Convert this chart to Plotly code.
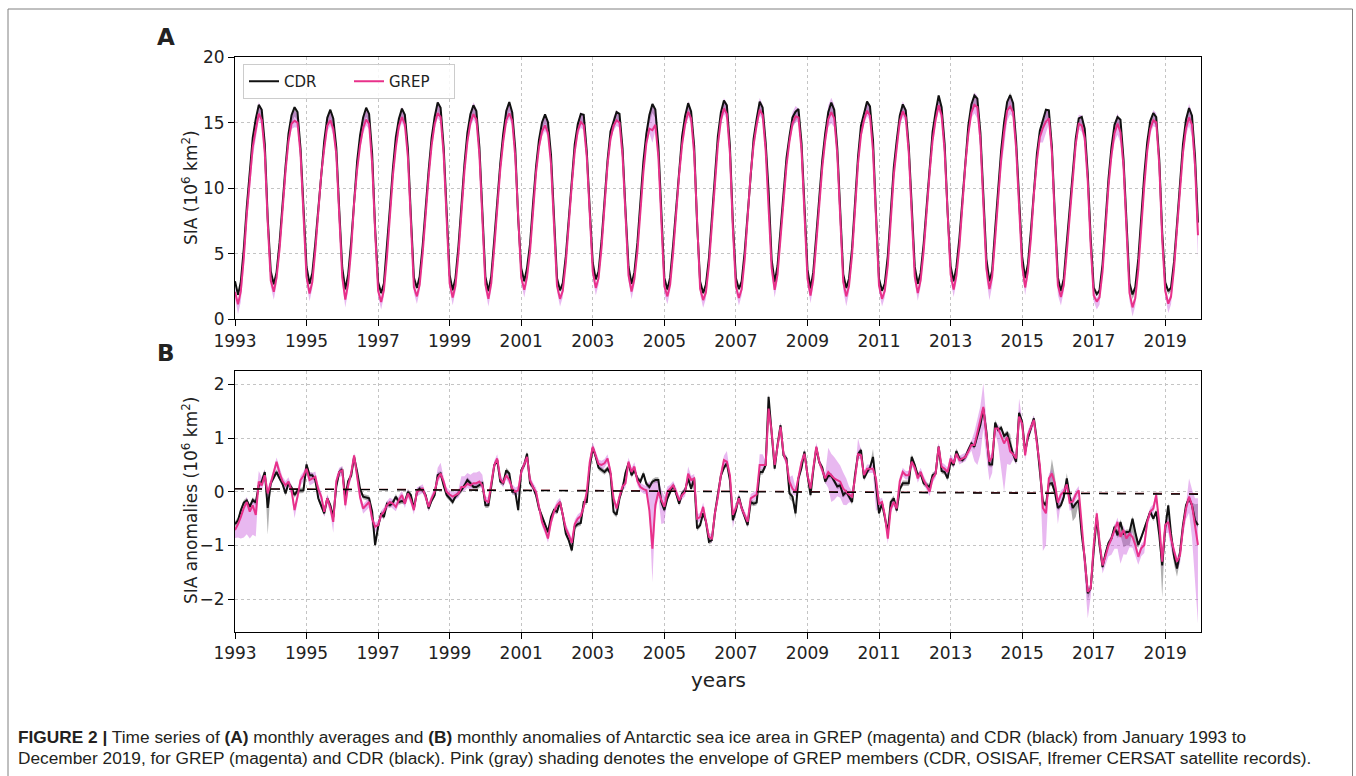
import pandas as pd
import plotly.graph_objects as go

# ---------------- data ----------------
years = list(range(1993, 2020))
dates = pd.date_range("1993-01-01", periods=12 * len(years), freq="MS")

# monthly climatologies (10^6 km2), Jan..Dec
clim_cdr = [3.5, 2.4, 3.2, 5.6, 8.7, 11.7, 14.0, 15.5, 16.25, 15.8, 13.0, 8.0]
clim_grep = [2.8, 1.75, 2.6, 5.0, 8.2, 11.2, 13.4, 14.9, 15.5, 15.1, 12.4, 7.4]

# monthly anomalies (10^6 km2), one row per year
anom_cdr = [
    [-0.60, -0.53, -0.35, -0.20, -0.16, -0.28, -0.15, -0.20, 0.12, 0.19, 0.37, -0.30],
    [0.16, 0.28, 0.37, 0.25, 0.15, -0.03, 0.16, 0.08, -0.06, 0.02, 0.03, 0.03],
    [0.51, 0.31, 0.31, 0.22, -0.12, -0.25, -0.40, -0.12, -0.25, -0.47, 0.10, 0.37],
    [0.42, -0.12, 0.20, 0.30, 0.65, 0.37, 0.05, -0.09, -0.10, -0.12, -0.37, -0.99],
    [-0.65, -0.40, -0.47, -0.22, -0.25, -0.20, -0.09, -0.19, -0.17, -0.19, 0.00, -0.06],
    [-0.31, 0.00, 0.06, 0.03, -0.06, -0.31, -0.16, -0.06, 0.31, 0.34, 0.12, -0.06],
    [-0.12, -0.19, -0.09, -0.03, 0.03, 0.12, 0.22, 0.16, 0.09, 0.09, 0.12, 0.16],
    [-0.25, -0.25, 0.10, 0.50, 0.59, 0.19, 0.16, 0.40, 0.34, 0.00, 0.00, -0.34],
    [0.40, 0.50, 0.71, 0.16, 0.09, -0.06, -0.31, -0.47, -0.60, -0.75, -0.47, -0.34],
    [-0.37, -0.19, -0.43, -0.78, -0.90, -1.09, -0.65, -0.60, -0.58, -0.19, -0.19, 0.45],
    [0.82, 0.65, 0.45, 0.40, 0.37, 0.43, 0.34, -0.37, -0.43, -0.12, 0.06, 0.35],
    [0.53, 0.31, 0.40, 0.25, 0.19, 0.34, 0.15, 0.09, 0.19, 0.22, 0.22, -0.19],
    [-0.34, -0.12, 0.00, 0.12, -0.03, -0.22, -0.03, 0.03, 0.25, 0.06, 0.25, -0.68],
    [-0.62, -0.40, -0.55, -0.93, -0.90, -0.40, -0.05, 0.30, 0.45, 0.53, 0.22, -0.53],
    [-0.35, -0.09, -0.30, -0.45, -0.62, -0.19, -0.22, -0.20, 0.37, 0.37, 0.50, 1.77],
    [1.06, 0.43, 0.87, 1.24, 0.68, 0.62, -0.03, -0.09, -0.40, 0.25, 0.45, 0.75],
    [0.31, -0.06, 0.40, 0.82, 0.55, 0.45, 0.19, 0.30, 0.30, 0.19, 0.10, 0.12],
    [-0.06, 0.00, -0.10, -0.19, 0.31, 0.70, 0.78, 0.25, 0.37, 0.45, 0.65, 0.12],
    [-0.40, -0.22, -0.47, -0.75, -0.19, -0.12, -0.35, 0.05, 0.16, 0.16, 0.16, 0.65],
    [0.50, 0.31, 0.34, 0.16, 0.12, 0.09, 0.31, 0.34, 0.84, 0.39, 0.37, 0.25],
    [0.56, 0.50, 0.76, 0.62, 0.59, 0.65, 0.78, 0.90, 0.84, 1.05, 1.25, 1.55],
    [1.12, 0.51, 0.51, 1.29, 1.15, 1.19, 1.04, 1.09, 0.87, 0.70, 0.56, 1.47],
    [1.30, 0.75, 1.00, 1.20, 1.37, 0.95, 0.40, -0.19, -0.25, 0.15, 0.16, 0.00],
    [-0.30, -0.25, -0.10, 0.25, -0.09, -0.30, -0.22, -0.16, -0.80, -1.24, -1.89, -1.80],
    [-1.09, -0.47, -0.99, -1.40, -1.15, -0.95, -0.87, -0.65, -0.81, -0.56, -0.78, -0.75],
    [-0.75, -0.50, -0.75, -0.99, -0.85, -0.68, -0.50, -0.37, -0.50, -0.37, -0.80, -1.37],
    [-0.68, -0.25, -0.78, -1.20, -1.43, -1.12, -0.62, -0.25, -0.12, -0.25, -0.53, -0.62],
]
anom_grep = [
    [-0.71, -0.60, -0.47, -0.30, -0.19, -0.37, -0.25, -0.43, 0.19, 0.12, 0.31, -0.03],
    [0.16, 0.35, 0.56, 0.35, 0.20, 0.12, 0.19, 0.03, -0.34, -0.09, 0.22, 0.30],
    [0.43, 0.22, 0.25, 0.28, 0.05, -0.09, -0.37, -0.12, -0.30, -0.56, 0.20, 0.37],
    [0.40, -0.25, 0.12, 0.35, 0.68, 0.25, -0.10, -0.31, -0.25, -0.19, -0.50, -0.65],
    [-0.62, -0.43, -0.37, -0.25, -0.19, -0.22, -0.28, -0.15, -0.06, -0.22, -0.03, -0.15],
    [-0.34, 0.00, 0.03, 0.06, -0.09, -0.28, -0.12, 0.00, 0.25, 0.34, 0.19, 0.00],
    [-0.05, -0.09, -0.06, -0.03, 0.09, 0.09, 0.15, 0.12, 0.16, 0.16, 0.19, 0.12],
    [-0.16, -0.19, 0.16, 0.50, 0.62, 0.25, 0.16, 0.31, 0.22, 0.06, 0.00, 0.03],
    [0.37, 0.50, 0.65, 0.22, 0.09, 0.00, -0.25, -0.56, -0.70, -0.87, -0.56, -0.37],
    [-0.25, -0.19, -0.43, -0.68, -0.80, -0.95, -0.60, -0.50, -0.45, -0.28, 0.00, 0.55],
    [0.84, 0.65, 0.52, 0.50, 0.53, 0.62, 0.37, -0.12, -0.31, -0.09, 0.10, 0.16],
    [0.56, 0.37, 0.47, 0.20, 0.09, 0.05, 0.03, -0.35, -1.06, -0.25, 0.00, -0.15],
    [-0.28, 0.00, 0.05, 0.12, 0.00, -0.16, -0.06, 0.00, 0.34, 0.22, 0.25, -0.50],
    [-0.47, -0.28, -0.55, -0.84, -0.87, -0.40, -0.10, 0.31, 0.59, 0.56, 0.31, -0.43],
    [-0.30, -0.12, -0.31, -0.45, -0.56, -0.12, -0.09, -0.05, 0.50, 0.50, 0.50, 1.55],
    [1.12, 0.50, 0.81, 1.21, 0.71, 0.56, 0.19, 0.06, 0.00, 0.31, 0.55, 0.71],
    [0.31, 0.06, 0.45, 0.84, 0.56, 0.40, 0.25, 0.37, 0.31, 0.25, 0.22, 0.19],
    [0.06, 0.00, -0.05, -0.09, 0.25, 0.70, 0.68, 0.31, 0.43, 0.43, 0.43, 0.25],
    [-0.22, -0.19, -0.43, -0.87, -0.31, -0.19, -0.31, 0.20, 0.37, 0.31, 0.31, 0.56],
    [0.45, 0.25, 0.37, 0.22, 0.10, 0.00, 0.25, 0.34, 0.84, 0.47, 0.43, 0.37],
    [0.62, 0.53, 0.71, 0.59, 0.62, 0.65, 0.75, 0.87, 0.87, 1.10, 1.30, 1.58],
    [1.06, 0.56, 0.65, 1.18, 1.18, 1.02, 0.90, 1.02, 0.75, 0.70, 0.62, 1.40],
    [1.27, 0.68, 1.06, 1.20, 1.34, 0.90, 0.50, -0.30, -0.40, 0.25, 0.34, 0.16],
    [-0.20, -0.05, 0.00, 0.14, -0.20, -0.18, -0.05, 0.03, -0.70, -1.27, -1.86, -1.80],
    [-0.99, -0.40, -0.93, -1.37, -1.20, -1.00, -0.87, -0.71, -0.56, -0.84, -0.71, -0.87],
    [-0.78, -0.84, -0.99, -1.21, -1.05, -0.99, -0.56, -0.37, -0.31, -0.06, -0.60, -1.30],
    [-0.62, -0.56, -0.87, -1.10, -1.30, -1.18, -0.68, -0.31, -0.09, -0.25, -0.62, -0.99],
]

# envelope of GREP members (pink): distance below / above GREP anomaly
pink_lo = [
    [0.15, 0.25, 0.40, 0.55, 0.60, 0.50, 0.55, 0.40, 0.10, 0.10, 0.10, 0.15],
    [0.10, 0.10, 0.10, 0.10, 0.10, 0.10, 0.10, 0.10, 0.15, 0.10, 0.10, 0.10],
    [0.10, 0.10, 0.10, 0.10, 0.10, 0.10, 0.10, 0.10, 0.10, 0.20, 0.10, 0.10],
    [0.10, 0.10, 0.10, 0.10, 0.10, 0.10, 0.10, 0.10, 0.10, 0.10, 0.15, 0.10],
    [0.08, 0.08, 0.08, 0.08, 0.08, 0.10, 0.08, 0.08, 0.08, 0.08, 0.08, 0.08],
    [0.08, 0.08, 0.08, 0.08, 0.08, 0.08, 0.08, 0.08, 0.08, 0.08, 0.08, 0.08],
    [0.08, 0.08, 0.08, 0.08, 0.08, 0.08, 0.08, 0.08, 0.08, 0.08, 0.08, 0.08],
    [0.08, 0.08, 0.08, 0.08, 0.08, 0.08, 0.08, 0.08, 0.08, 0.08, 0.08, 0.08],
    [0.08, 0.08, 0.08, 0.08, 0.08, 0.08, 0.08, 0.08, 0.08, 0.08, 0.08, 0.08],
    [0.08, 0.08, 0.08, 0.08, 0.08, 0.08, 0.08, 0.08, 0.08, 0.08, 0.08, 0.08],
    [0.08, 0.08, 0.08, 0.08, 0.08, 0.08, 0.08, 0.08, 0.08, 0.08, 0.08, 0.08],
    [0.08, 0.08, 0.08, 0.08, 0.08, 0.08, 0.08, 0.05, 0.62, 0.15, 0.10, 0.45],
    [0.30, 0.10, 0.08, 0.08, 0.08, 0.08, 0.08, 0.08, 0.08, 0.08, 0.08, 0.08],
    [0.08, 0.08, 0.08, 0.08, 0.08, 0.08, 0.08, 0.08, 0.08, 0.08, 0.08, 0.25],
    [0.08, 0.08, 0.08, 0.08, 0.08, 0.08, 0.08, 0.08, 0.08, 0.08, 0.08, 0.08],
    [0.08, 0.08, 0.08, 0.08, 0.08, 0.08, 0.08, 0.10, 0.08, 0.08, 0.08, 0.08],
    [0.08, 0.08, 0.08, 0.08, 0.08, 0.08, 0.08, 0.30, 0.50, 0.40, 0.30, 0.30],
    [0.30, 0.25, 0.15, 0.10, 0.08, 0.08, 0.08, 0.08, 0.08, 0.08, 0.08, 0.60],
    [0.10, 0.08, 0.08, 0.10, 0.08, 0.08, 0.08, 0.08, 0.08, 0.08, 0.08, 0.08],
    [0.08, 0.08, 0.08, 0.08, 0.08, 0.08, 0.08, 0.08, 0.08, 0.08, 0.08, 0.08],
    [0.08, 0.08, 0.08, 0.08, 0.08, 0.08, 0.08, 0.10, 0.30, 0.60, 0.60, 0.40],
    [0.40, 0.35, 0.30, 0.08, 0.30, 0.60, 0.90, 0.50, 0.25, 0.10, 0.10, 0.10],
    [0.10, 0.10, 0.10, 0.10, 0.10, 0.10, 0.15, 0.80, 0.60, 0.15, 0.10, 0.20],
    [0.40, 0.15, 0.10, 0.10, 0.15, 0.15, 0.10, 0.10, 0.15, 0.15, 0.50, 0.15],
    [0.10, 0.10, 0.15, 0.15, 0.15, 0.20, 0.30, 0.35, 0.50, 0.50, 0.45, 0.30],
    [0.25, 0.20, 0.20, 0.15, 0.15, 0.15, 0.10, 0.10, 0.10, 0.10, 0.15, 0.15],
    [0.15, 0.20, 0.20, 0.15, 0.15, 0.15, 0.15, 0.20, 0.30, 0.60, 1.05, 1.46],
]
pink_hi = [
    [0.05, 0.05, 0.05, 0.05, 0.10, 0.10, 0.10, 0.30, 0.20, 0.15, 0.10, 0.10],
    [0.08, 0.08, 0.08, 0.08, 0.08, 0.08, 0.08, 0.08, 0.08, 0.08, 0.08, 0.08],
    [0.10, 0.15, 0.10, 0.10, 0.08, 0.08, 0.08, 0.08, 0.08, 0.08, 0.08, 0.08],
    [0.08, 0.08, 0.08, 0.08, 0.05, 0.08, 0.08, 0.08, 0.08, 0.08, 0.08, 0.08],
    [0.08, 0.08, 0.08, 0.08, 0.08, 0.08, 0.08, 0.08, 0.08, 0.08, 0.08, 0.08],
    [0.08, 0.08, 0.08, 0.08, 0.08, 0.08, 0.08, 0.08, 0.20, 0.20, 0.08, 0.08],
    [0.08, 0.08, 0.08, 0.08, 0.20, 0.20, 0.20, 0.20, 0.20, 0.20, 0.20, 0.20],
    [0.08, 0.08, 0.08, 0.08, 0.08, 0.08, 0.08, 0.08, 0.08, 0.08, 0.08, 0.08],
    [0.08, 0.08, 0.08, 0.08, 0.08, 0.08, 0.08, 0.08, 0.08, 0.08, 0.08, 0.08],
    [0.08, 0.08, 0.08, 0.08, 0.08, 0.08, 0.08, 0.08, 0.08, 0.08, 0.08, 0.08],
    [0.08, 0.08, 0.08, 0.08, 0.08, 0.08, 0.08, 0.08, 0.08, 0.08, 0.08, 0.08],
    [0.08, 0.08, 0.08, 0.08, 0.08, 0.08, 0.08, 0.55, 1.20, 0.45, 0.20, 0.20],
    [0.20, 0.10, 0.08, 0.08, 0.08, 0.08, 0.08, 0.08, 0.13, 0.08, 0.08, 0.08],
    [0.08, 0.08, 0.08, 0.08, 0.08, 0.08, 0.08, 0.08, 0.08, 0.20, 0.08, 0.08],
    [0.08, 0.08, 0.08, 0.08, 0.08, 0.08, 0.08, 0.08, 0.20, 0.20, 0.08, 0.25],
    [0.08, 0.08, 0.08, 0.08, 0.08, 0.08, 0.08, 0.25, 0.08, 0.08, 0.08, 0.08],
    [0.08, 0.08, 0.08, 0.08, 0.08, 0.08, 0.08, 0.45, 0.40, 0.40, 0.35, 0.30],
    [0.30, 0.25, 0.15, 0.10, 0.10, 0.30, 0.10, 0.08, 0.08, 0.08, 0.08, 0.08],
    [0.08, 0.08, 0.08, 0.08, 0.08, 0.08, 0.08, 0.08, 0.08, 0.08, 0.08, 0.08],
    [0.08, 0.08, 0.08, 0.08, 0.08, 0.08, 0.08, 0.08, 0.08, 0.08, 0.08, 0.08],
    [0.08, 0.08, 0.08, 0.08, 0.08, 0.08, 0.08, 0.08, 0.25, 0.25, 0.30, 0.44],
    [0.20, 0.10, 0.08, 0.08, 0.08, 0.08, 0.08, 0.08, 0.08, 0.08, 0.08, 0.34],
    [0.08, 0.08, 0.08, 0.08, 0.08, 0.08, 0.08, 0.08, 0.08, 0.08, 0.08, 0.08],
    [0.08, 0.08, 0.08, 0.08, 0.08, 0.08, 0.08, 0.08, 0.08, 0.08, 0.08, 0.08],
    [0.08, 0.08, 0.08, 0.08, 0.08, 0.08, 0.08, 0.08, 0.08, 0.08, 0.08, 0.08],
    [0.08, 0.08, 0.08, 0.08, 0.08, 0.08, 0.08, 0.08, 0.08, 0.08, 0.08, 0.08],
    [0.08, 0.08, 0.08, 0.08, 0.08, 0.08, 0.08, 0.08, 0.34, 0.30, 0.50, 0.87],
]
# envelope of satellite records (gray): distance below / above CDR anomaly
gray_lo = [
    [0.05, 0.05, 0.05, 0.05, 0.05, 0.05, 0.05, 0.05, 0.05, 0.05, 0.05, 0.50],
    *[[0.05] * 12 for _ in range(14)],
    [0.05, 0.05, 0.05, 0.05, 0.05, 0.05, 0.10, 0.10, 0.10, 0.05, 0.05, 0.05],
    *[[0.05] * 12 for _ in range(7)],
    [0.05, 0.05, 0.05, 0.05, 0.05, 0.25, 0.25, 0.05, 0.05, 0.05, 0.12, 0.05],
    [0.05, 0.05, 0.05, 0.05, 0.05, 0.05, 0.05, 0.05, 0.05, 0.25, 0.25, 0.25],
    [0.25, 0.25, 0.25, 0.05, 0.05, 0.05, 0.05, 0.05, 0.05, 0.05, 0.05, 0.60],
    [0.05, 0.15, 0.15, 0.15, 0.15, 0.15, 0.15, 0.05, 0.05, 0.05, 0.05, 0.05],
]
gray_hi = [
    *[[0.05] * 12 for _ in range(17)],
    [0.05, 0.05, 0.05, 0.05, 0.05, 0.05, 0.05, 0.05, 0.05, 0.05, 0.15, 0.05],
    *[[0.05] * 12 for _ in range(3)],
    [0.05, 0.05, 0.05, 0.05, 0.05, 0.05, 0.05, 0.05, 0.20, 0.05, 0.05, 0.05],
    [0.05, 0.05, 0.05, 0.05, 0.05, 0.05, 0.05, 0.05, 0.05, 0.05, 0.45, 0.30],
    [0.10, 0.05, 0.05, 0.10, 0.05, 0.05, 0.05, 0.05, 0.05, 0.05, 0.05, 0.05],
    [0.05] * 12,
    [0.05] * 12,
    [0.05, 0.05, 0.05, 0.05, 0.05, 0.05, 0.05, 0.05, 0.05, 0.05, 0.30, 0.40],
]
# extra seasonal spread of the members in absolute SIA (panel A), Jan..Dec
sia_pink_hi = [0.3, 0.2, 0.2, 0.3, 0.3, 0.4, 0.5, 0.6, 0.7, 0.6, 0.4, 0.3]
sia_pink_lo = [0.35, 0.5, 0.4, 0.2, 0.2, 0.2, 0.25, 0.3, 0.35, 0.3, 0.2, 0.25]
sia_gray_lo = [0.2, 0.1, 0.15, 0.2, 0.3, 0.4, 0.5, 0.6, 0.65, 0.6, 0.4, 0.3]

# linear trends of the anomalies (dashed)
trend_dates = ["1993-01-01", "2020-01-01"]
trend_cdr = [0.055, -0.045]
trend_grep = [0.06, -0.035]

x_ticks = list(range(1993, 2021, 2))

# ---------------- derived series ----------------
def flat(rows):
    return [v for r in rows for v in r]

a_cdr, a_grep = flat(anom_cdr), flat(anom_grep)
p_lo, p_hi, g_lo, g_hi = flat(pink_lo), flat(pink_hi), flat(gray_lo), flat(gray_hi)
mon = [d.month - 1 for d in dates]

sia_cdr = [clim_cdr[m] + a for m, a in zip(mon, a_cdr)]
sia_grep = [clim_grep[m] + a for m, a in zip(mon, a_grep)]

BLACK = "#111111"
MAG = "#e8318a"
PINK_FILL = "rgba(200, 85, 220, 0.42)"
GRAY_FILL = "rgba(110, 110, 110, 0.55)"

fig = go.Figure()


def band(lo, hi, color, xa, ya):
    fig.add_trace(go.Scatter(x=dates, y=lo, mode="lines", line=dict(width=0),
                             showlegend=False, hoverinfo="skip", xaxis=xa, yaxis=ya))
    fig.add_trace(go.Scatter(x=dates, y=hi, mode="lines", line=dict(width=0),
                             fill="tonexty", fillcolor=color, showlegend=False,
                             hoverinfo="skip", xaxis=xa, yaxis=ya))


# ----- panel A -----
band([v - s - sia_gray_lo[m] for v, s, m in zip(sia_cdr, g_lo, mon)],
     [v + s for v, s in zip(sia_cdr, g_hi)], GRAY_FILL, "x", "y")
band([v - s - sia_pink_lo[m] for v, s, m in zip(sia_grep, p_lo, mon)],
     [v + s + sia_pink_hi[m] for v, s, m in zip(sia_grep, p_hi, mon)], PINK_FILL, "x", "y")
fig.add_trace(go.Scatter(x=dates, y=sia_cdr, mode="lines", name="CDR",
                         line=dict(color=BLACK, width=2), xaxis="x", yaxis="y"))
fig.add_trace(go.Scatter(x=dates, y=sia_grep, mode="lines", name="GREP",
                         line=dict(color=MAG, width=2), xaxis="x", yaxis="y"))

# ----- panel B -----
band([v - s for v, s in zip(a_cdr, g_lo)], [v + s for v, s in zip(a_cdr, g_hi)],
     GRAY_FILL, "x2", "y2")
band([v - s for v, s in zip(a_grep, p_lo)], [v + s for v, s in zip(a_grep, p_hi)],
     PINK_FILL, "x2", "y2")
fig.add_trace(go.Scatter(x=dates, y=a_cdr, mode="lines", showlegend=False,
                         line=dict(color=BLACK, width=2), xaxis="x2", yaxis="y2"))
fig.add_trace(go.Scatter(x=dates, y=a_grep, mode="lines", showlegend=False,
                         line=dict(color=MAG, width=2), xaxis="x2", yaxis="y2"))
fig.add_trace(go.Scatter(x=trend_dates, y=trend_grep, mode="lines", showlegend=False,
                         line=dict(color="#7a1f2b", width=1.3, dash="dash"),
                         xaxis="x2", yaxis="y2"))
fig.add_trace(go.Scatter(x=trend_dates, y=trend_cdr, mode="lines", showlegend=False,
                         line=dict(color="black", width=1.3, dash="dash"),
                         xaxis="x2", yaxis="y2"))

W, H = 1356, 776
L, R = 235, 1201
FONT = "DejaVu Sans, Verdana, sans-serif"


def px(x):
    return x / W


def py(y):
    return 1 - y / H


tickfont = dict(family=FONT, size=17, color="#222")
xcommon = dict(type="date", range=["1993-01-01", "2020-01-01"],
               tickvals=[f"{y}-01-01" for y in x_ticks], ticktext=[str(y) for y in x_ticks],
               showgrid=True, gridcolor="#c4c4c4", griddash="dot", gridwidth=1,
               showline=True, linecolor="black", linewidth=1, mirror=True,
               ticks="outside", ticklen=6, tickcolor="black", tickfont=tickfont,
               zeroline=False, domain=[px(L), px(R)])
ycommon = dict(showgrid=True, gridcolor="#c4c4c4", griddash="dot", gridwidth=1,
               showline=True, linecolor="black", linewidth=1, mirror=True,
               ticks="outside", ticklen=6, tickcolor="black", tickfont=tickfont,
               zeroline=False)

fig.update_layout(
    width=W, height=H, margin=dict(l=0, r=0, t=0, b=0, autoexpand=False),
    paper_bgcolor="white", plot_bgcolor="white",
    xaxis=dict(**xcommon, anchor="y"),
    yaxis=dict(**ycommon, range=[0, 20], tickvals=[0, 5, 10, 15, 20],
               domain=[py(319.3), py(57.3)], anchor="x"),
    xaxis2=dict(**xcommon, anchor="y2"),
    yaxis2=dict(**ycommon, range=[-2.61, 2.25], tickvals=[-2, -1, 0, 1, 2],
                domain=[py(632), py(371)], anchor="x2"),
    legend=dict(orientation="h", x=px(243), y=py(64), xanchor="left", yanchor="top",
                traceorder="normal",
                bgcolor="rgba(255,255,255,0.85)", bordercolor="#cccccc", borderwidth=1,
                font=dict(family=FONT, size=15, color="#222"),
                itemwidth=30, entrywidth=60, tracegroupgap=0),
    showlegend=True,
)

ann = [
    dict(text="<b>A</b>", x=px(166), y=py(37), font=dict(size=23)),
    dict(text="<b>B</b>", x=px(166), y=py(353), font=dict(size=23)),
    dict(text="SIA (10<sup>6</sup> km<sup>2</sup>)", x=px(190), y=py(188),
         textangle=-90, font=dict(size=17)),
    dict(text="SIA anomalies (10<sup>6</sup> km<sup>2</sup>)", x=px(190), y=py(501),
         textangle=-90, font=dict(size=17)),
    dict(text="years", x=px(718), y=py(680), font=dict(size=20)),
]
for a in ann:
    f = dict(family=FONT, color="#222")
    f.update(a.pop("font"))
    fig.add_annotation(**a, xref="paper", yref="paper", showarrow=False,
                       xanchor="center", yanchor="middle", font=f)

CAP_FONT = "Liberation Sans Narrow, Arial Narrow, Liberation Sans, Arial, sans-serif"
cap1 = ("<b>FIGURE 2 |</b> Time series of <b>(A)</b> monthly averages and <b>(B)</b> "
        "monthly anomalies of Antarctic sea ice area in GREP (magenta) and CDR (black) "
        "from January 1993 to")
cap2 = ("December 2019, for GREP (magenta) and CDR (black). Pink (gray) shading denotes "
        "the envelope of GREP members (CDR, OSISAF, Ifremer CERSAT satellite records).")
for txt, yy in [(cap1, 737), (cap2, 758)]:
    fig.add_annotation(text=txt, x=px(16), y=py(yy), xref="paper", yref="paper",
                       showarrow=False, xanchor="left", yanchor="middle",
                       font=dict(family=CAP_FONT, size=17.3, color="#231f20"))

# figure frame
fig.add_shape(type="rect", xref="paper", yref="paper", x0=px(8), x1=px(1352.5),
              y0=py(790), y1=py(9), line=dict(color="#808080", width=1),
              fillcolor="rgba(0,0,0,0)", layer="below")

fig.write_html("out.html")
